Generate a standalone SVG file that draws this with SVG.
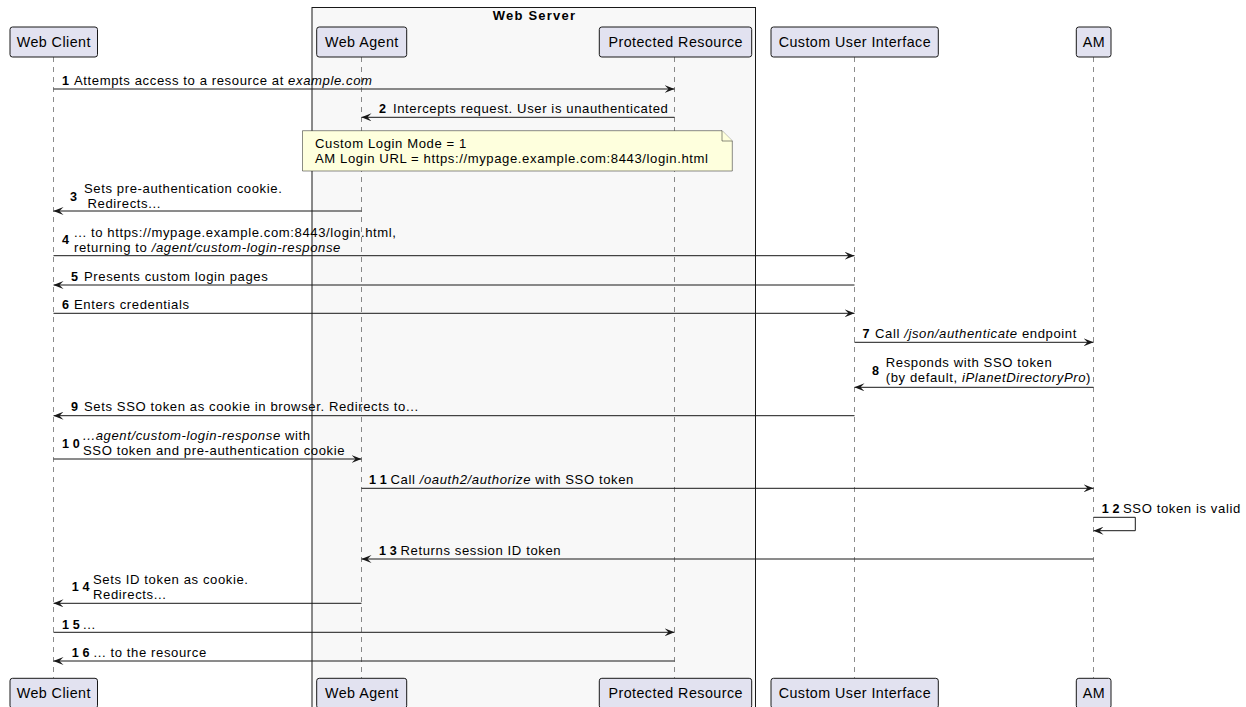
<svg xmlns="http://www.w3.org/2000/svg" width="1246" height="707" viewBox="0 0 1246 707">
<defs>
<style>
.box{fill:#E2E2F0;stroke:#181818;stroke-width:1}
.pt{font-family:"Liberation Sans",Arial,sans-serif;font-size:14.3px;letter-spacing:0.45px;fill:#000;text-anchor:middle}
.life{stroke:#181818;stroke-width:0.5;stroke-dasharray:5,5;fill:none}
.msg{stroke:#181818;stroke-width:1;fill:none;marker-end:url(#ah)}
.t{font-family:"Liberation Sans",Arial,sans-serif;font-size:13.1px;letter-spacing:0.6px;fill:#000}
.n{font-family:"Liberation Sans",Arial,sans-serif;font-size:12.6px;font-weight:bold;letter-spacing:0;word-spacing:0.2px;fill:#000}
.i{font-style:italic}
.note{fill:#FEFFDD;stroke:#181818;stroke-width:0.5}
</style>
<marker id="ah" viewBox="0 0 10 8" refX="10" refY="4" markerWidth="10" markerHeight="8" orient="auto" markerUnits="userSpaceOnUse">
<path d="M0,0 L10,4 L0,8 L4,4 Z" fill="#181818"/>
</marker>
</defs>
<rect width="1246" height="707" fill="#FFFFFF"/>

<g id="web-server">
<rect x="312" y="7.5" width="443.5" height="710" fill="#F8F8F8" stroke="#181818" stroke-width="1"/>
<text x="534.5" y="20" font-family="'Liberation Sans',Arial,sans-serif" font-size="13px" font-weight="bold" letter-spacing="1.2px" text-anchor="middle">Web Server</text>
</g>

<g id="web-client">
<line class="life" x1="53.5" y1="57" x2="53.5" y2="678"/>
<rect class="box" x="10" y="27" width="87.5" height="30" rx="2.5"/>
<text class="pt" x="53.8" y="47">Web Client</text>
<rect class="box" x="10" y="678.3" width="87.5" height="30" rx="2.5"/>
<text class="pt" x="53.8" y="698.3">Web Client</text>
</g>

<g id="web-agent">
<line class="life" x1="361.5" y1="57" x2="361.5" y2="678"/>
<rect class="box" x="316.7" y="27" width="90" height="30" rx="2.5"/>
<text class="pt" x="361.9" y="47">Web Agent</text>
<rect class="box" x="316.7" y="678.3" width="90" height="30" rx="2.5"/>
<text class="pt" x="361.9" y="698.3">Web Agent</text>
</g>

<g id="protected-resource">
<line class="life" x1="674.5" y1="57" x2="674.5" y2="678"/>
<rect class="box" x="599.3" y="27" width="152.4" height="30" rx="2.5"/>
<text class="pt" x="675.7" y="47">Protected Resource</text>
<rect class="box" x="599.3" y="678.3" width="152.4" height="30" rx="2.5"/>
<text class="pt" x="675.7" y="698.3">Protected Resource</text>
</g>

<g id="custom-user-interface">
<line class="life" x1="854.5" y1="57" x2="854.5" y2="678"/>
<rect class="box" x="771" y="27" width="167.3" height="30" rx="2.5"/>
<text class="pt" x="854.9" y="47">Custom User Interface</text>
<rect class="box" x="771" y="678.3" width="167.3" height="30" rx="2.5"/>
<text class="pt" x="854.9" y="698.3">Custom User Interface</text>
</g>

<g id="am">
<line class="life" x1="1093.5" y1="57" x2="1093.5" y2="678"/>
<rect class="box" x="1076.3" y="27" width="34.7" height="30" rx="2.5"/>
<text class="pt" x="1093.9" y="47">AM</text>
<rect class="box" x="1076.3" y="678.3" width="34.7" height="30" rx="2.5"/>
<text class="pt" x="1093.9" y="698.3">AM</text>
</g>

<g id="note">
<path class="note" d="M302.5,130.7 H722 L732.3,141 V171 H302.5 Z"/>
<path class="note" d="M722,130.7 V141 H732.3" fill="none"/>
<text class="t" x="315" y="148">Custom Login Mode = 1</text>
<text class="t" x="315" y="163">AM Login URL = https://mypage.example.com:8443/login.html</text>
</g>

<g id="connectors">
<!-- 1 -->
<line class="msg" x1="53.5" y1="89" x2="674.5" y2="89"/>
<text class="n" x="62" y="84.5">1</text>
<text class="t" x="74" y="84.5">Attempts access to a resource at <tspan class="i">example.com</tspan></text>
<!-- 2 -->
<line class="msg" x1="674.5" y1="117.3" x2="361.5" y2="117.3"/>
<text class="n" x="379" y="113">2</text>
<text class="t" x="393" y="113">Intercepts request. User is unauthenticated</text>
<!-- 3 -->
<line class="msg" x1="361.5" y1="211" x2="53.5" y2="211"/>
<text class="n" x="70" y="200.5">3</text>
<text class="t" x="84" y="192.5">Sets pre-authentication cookie.</text>
<text class="t" x="87.5" y="207.5">Redirects...</text>
<!-- 4 -->
<line class="msg" x1="53.5" y1="255.7" x2="854.5" y2="255.7"/>
<text class="n" x="62" y="244">4</text>
<text class="t" x="74" y="236.5">... to https://mypage.example.com:8443/login.html,</text>
<text class="t" x="74" y="251.5">returning to <tspan class="i">/agent/custom-login-response</tspan></text>
<!-- 5 -->
<line class="msg" x1="854.5" y1="285" x2="53.5" y2="285"/>
<text class="n" x="71" y="280.5">5</text>
<text class="t" x="84" y="280.5">Presents custom login pages</text>
<!-- 6 -->
<line class="msg" x1="53.5" y1="313.3" x2="854.5" y2="313.3"/>
<text class="n" x="62" y="309">6</text>
<text class="t" x="74" y="309">Enters credentials</text>
<!-- 7 -->
<line class="msg" x1="854.5" y1="342.3" x2="1093.5" y2="342.3"/>
<text class="n" x="862.5" y="338">7</text>
<text class="t" x="875" y="338">Call <tspan class="i">/json/authenticate</tspan> endpoint</text>
<!-- 8 -->
<line class="msg" x1="1093.5" y1="387.3" x2="854.5" y2="387.3"/>
<text class="n" x="872" y="375">8</text>
<text class="t" x="885.7" y="367">Responds with SSO token</text>
<text class="t" x="885.7" y="382">(by default, <tspan class="i">iPlanetDirectoryPro</tspan>)</text>
<!-- 9 -->
<line class="msg" x1="854.5" y1="415.7" x2="53.5" y2="415.7"/>
<text class="n" x="71" y="411">9</text>
<text class="t" x="84" y="411">Sets SSO token as cookie in browser. Redirects to...</text>
<!-- 10 -->
<line class="msg" x1="53.5" y1="459" x2="361.5" y2="459"/>
<text class="n" x="62" y="448">1 0</text>
<text class="t" x="83" y="440"><tspan class="i">...agent/custom-login-response</tspan> with</text>
<text class="t" x="83" y="455">SSO token and pre-authentication cookie</text>
<!-- 11 -->
<line class="msg" x1="361.5" y1="488.3" x2="1093.5" y2="488.3"/>
<text class="n" x="369" y="484">1 1</text>
<text class="t" x="390.5" y="484">Call <tspan class="i">/oauth2/authorize</tspan> with SSO token</text>
<!-- 12 -->
<path class="msg" d="M1093.5,517.3 H1135.3 V530.7 H1093.5"/>
<text class="n" x="1101.7" y="513">1 2</text>
<text class="t" x="1123" y="513">SSO token is valid</text>
<!-- 13 -->
<line class="msg" x1="1093.5" y1="559" x2="361.5" y2="559"/>
<text class="n" x="379" y="555">1 3</text>
<text class="t" x="400.5" y="555">Returns session ID token</text>
<!-- 14 -->
<line class="msg" x1="361.5" y1="603.3" x2="53.5" y2="603.3"/>
<text class="n" x="71.7" y="591">1 4</text>
<text class="t" x="93" y="584">Sets ID token as cookie.</text>
<text class="t" x="93" y="599">Redirects...</text>
<!-- 15 -->
<line class="msg" x1="53.5" y1="632.3" x2="674.5" y2="632.3"/>
<text class="n" x="62" y="629">1 5</text>
<text class="t" x="83" y="629">...</text>
<!-- 16 -->
<line class="msg" x1="674.5" y1="661" x2="53.5" y2="661"/>
<text class="n" x="71.7" y="657">1 6</text>
<text class="t" x="93.5" y="657">... to the resource</text>
</g>
</svg>
